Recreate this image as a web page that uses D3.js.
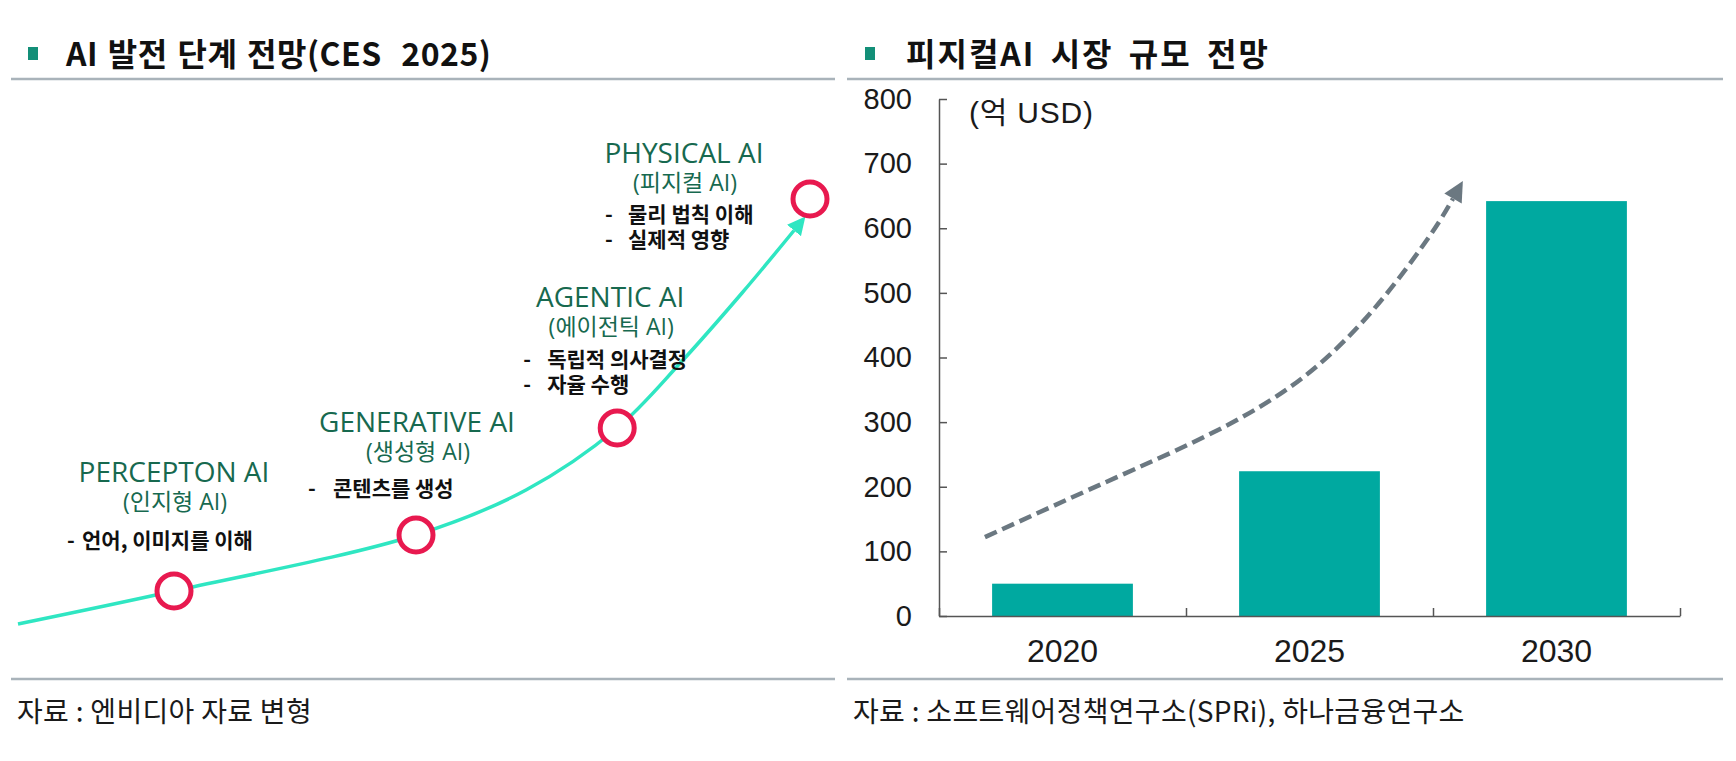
<!DOCTYPE html>
<html>
<head>
<meta charset="utf-8">
<script src="https://cdn.jsdelivr.net/npm/d3@7"></script>
<style>
  html, body { margin: 0; padding: 0; background: #fff; }
  svg { display: block; }
</style>
</head>
<body>
<div id="chart"></div>
<script>
// Left panel: AI development stages (CES 2025)
const stageNames = ["PERCEPTON AI", "GENERATIVE AI", "AGENTIC AI", "PHYSICAL AI"];
const stageNamesKo = ["(인지형 AI)", "(생성형 AI)", "(에이전틱 AI)", "(피지컬 AI)"];
const stageDescs = [["언어, 이미지를 이해"], ["콘텐츠를 생성"], ["독립적 의사결정", "자율 수행"], ["물리 법칙 이해", "실제적 영향"]];
// stage position on the growth curve (progress, level) in 0-100 units
const stageProgress = [19.5, 49.75, 74.9, 99];
const stageLevel = [6.8, 18, 39.4, 85.2];
// growth curve itself, same units
const curveProgress = [0, 19.5, 49.75, 63.5, 74.9, 82.9, 90.5, 97];
const curveLevel = [0.2, 6.8, 18, 27, 39.4, 52.6, 66.4, 78.9];

// Right panel: physical AI market size (억 USD)
const years = ["2020", "2025", "2030"];
const marketSize = [50, 224, 642];
const yTicks = [0, 100, 200, 300, 400, 500, 600, 700, 800];
// dashed trend arrow: position in category slots, value in 억 USD
const trendPos = [0.186, 0.785, 1.47, 1.927, 2.081];
const trendValue = [122, 226, 368, 556, 646];

const W = 1736, H = 761;
const KR = "'Noto Sans CJK KR', 'Noto Sans', sans-serif";
const LATIN = "'Open Sans', 'Noto Sans CJK KR', sans-serif";
const AXIS = "'Liberation Sans', Arial, 'Noto Sans CJK KR', sans-serif";

const svg = d3.select("#chart").append("svg")
  .attr("width", W)
  .attr("height", H);

svg.append("rect").attr("width", W).attr("height", H).attr("fill", "#fff");

// arrow heads
const defs = svg.append("defs");
function addArrow(id, color, len, wid) {
  defs.append("marker")
    .attr("id", id)
    .attr("viewBox", "0 0 10 10")
    .attr("refX", 0)
    .attr("refY", 5)
    .attr("markerUnits", "userSpaceOnUse")
    .attr("markerWidth", len)
    .attr("markerHeight", wid)
    .attr("orient", "auto")
    .append("path")
    .attr("d", "M0,0 L10,5 L0,10 Z")
    .attr("fill", color);
}
addArrow("headCyan", "#2fe6c2", 18, 18);
addArrow("headGray", "#6b7881", 22, 20);

/////////
// Panel frames: title, separators, source
/////////
function drawFrame(x0, x1, sqX, title, titleX, titleStyle, source) {
  svg.append("rect")
    .attr("x", sqX).attr("y", 47)
    .attr("width", 10).attr("height", 13)
    .attr("fill", "#138f78");

  svg.append("text")
    .attr("x", titleX).attr("y", 66)
    .style("font-family", KR)
    .style("font-weight", 700)
    .style("font-size", "32px")
    .style("letter-spacing", titleStyle.ls + "px")
    .style("word-spacing", titleStyle.ws + "px")
    .style("white-space", "pre")
    .attr("fill", "#111")
    .text(title);

  [79, 679].forEach(y => {
    svg.append("line")
      .attr("x1", x0).attr("x2", x1)
      .attr("y1", y).attr("y2", y)
      .attr("stroke", "#a9b3ba")
      .attr("stroke-width", 2.5);
  });

  svg.append("text")
    .attr("x", x0 + 6).attr("y", 722)
    .style("font-family", KR)
    .style("font-size", "28px")
    .style("letter-spacing", "0.3px")
    .attr("fill", "#1a1a1a")
    .text(source);
}

drawFrame(11, 835, 28, "AI 발전 단계 전망(CES  2025)", 66, { ls: 0.5, ws: 2 }, "자료 : 엔비디아 자료 변형");
drawFrame(847, 1723, 865, "피지컬AI 시장 규모 전망", 906, { ls: 2, ws: 6 }, "자료 : 소프트웨어정책연구소(SPRi), 하나금융연구소");

/////////
// Left panel
/////////
const xL = d3.scaleLinear().domain([0, 100]).range([18, 818]);
const yL = d3.scaleLinear().domain([0, 100]).range([625, 125]);

const curveData = curveProgress.map((p, i) => [p, curveLevel[i]]);
const curveLine = d3.line()
  .x(d => xL(d[0]))
  .y(d => yL(d[1]))
  .curve(d3.curveCatmullRom.alpha(0.5));

svg.append("path")
  .datum(curveData)
  .attr("d", curveLine)
  .attr("fill", "none")
  .attr("stroke", "#2fe6c2")
  .attr("stroke-width", 3.5)
  .attr("marker-end", "url(#headCyan)");

const stages = stageNames.map((name, i) => ({
  name: name,
  ko: stageNamesKo[i],
  desc: stageDescs[i],
  x: xL(stageProgress[i]),
  y: yL(stageLevel[i])
}));

svg.append("g").selectAll("circle")
  .data(stages)
  .join("circle")
  .attr("cx", d => d.x)
  .attr("cy", d => d.y)
  .attr("r", 17)
  .attr("fill", "#fff")
  .attr("stroke", "#e8194f")
  .attr("stroke-width", 5);

// label layout relative to each circle
const labelLayout = [
  { nameDx: 0,    nameDy: -109, descDx: -107, descDy: -43, dashGap: 15 },
  { nameDx: 1,    nameDy: -103, descDx: -108, descDy: -39, dashGap: 25 },
  { nameDx: -7,   nameDy: -121, descDx: -94,  descDy: -61, dashGap: 24 },
  { nameDx: -126, nameDy: -36,  descDx: -205, descDy: 23,  dashGap: 23 }
];

stages.forEach((s, i) => {
  const L = labelLayout[i];
  const g = svg.append("g");
  g.append("text")
    .attr("x", s.x + L.nameDx).attr("y", s.y + L.nameDy)
    .attr("text-anchor", "middle")
    .style("font-family", LATIN)
    .style("font-size", "28px")
    .attr("fill", "#17694f")
    .text(s.name);
  g.append("text")
    .attr("x", s.x + L.nameDx + 1).attr("y", s.y + L.nameDy + 28)
    .attr("text-anchor", "middle")
    .style("font-family", LATIN)
    .style("font-size", "23px")
    .attr("fill", "#17694f")
    .text(s.ko);
  s.desc.forEach((line, j) => {
    const by = s.y + L.descDy + j * 25;
    g.append("text")
      .attr("x", s.x + L.descDx).attr("y", by)
      .style("font-family", KR)
      .style("font-size", "21px")
      .style("font-weight", 700)
      .attr("fill", "#111")
      .text("-");
    g.append("text")
      .attr("x", s.x + L.descDx + L.dashGap).attr("y", by)
      .style("font-family", KR)
      .style("font-size", "21px")
      .style("font-weight", 700)
      .attr("fill", "#111")
      .text(line);
  });
});

/////////
// Right panel
/////////
const plotLeft = 939, plotRight = 1680;
const y = d3.scaleLinear().domain([0, 800]).range([616, 99]);
const x = d3.scaleBand()
  .domain(years)
  .range([plotLeft, plotRight])
  .paddingInner(0.43)
  .paddingOuter(0.215);
const slot = d3.scaleLinear().domain([0, years.length]).range([plotLeft, plotRight]);

// bars
svg.append("g").selectAll("rect")
  .data(years.map((yr, i) => ({ year: yr, value: marketSize[i] })))
  .join("rect")
  .attr("x", d => x(d.year))
  .attr("y", d => y(d.value))
  .attr("width", x.bandwidth())
  .attr("height", d => y(0) - y(d.value))
  .attr("fill", "#00a9a0");

// y axis, ticks pointing inward
const yAxis = svg.append("g")
  .attr("transform", `translate(${plotLeft},0)`)
  .call(d3.axisLeft(y).tickValues(yTicks).tickSizeInner(-8).tickSizeOuter(0).tickPadding(27));
yAxis.select(".domain").attr("stroke", "#555").attr("stroke-width", 1.5);
yAxis.selectAll(".tick line").attr("stroke", "#555").attr("stroke-width", 1.5);
yAxis.selectAll(".tick text")
  .style("font-family", AXIS)
  .style("font-size", "29px")
  .attr("fill", "#1a1a1a");

// x axis: labels at band centres, separator ticks at slot boundaries
const xAxis = svg.append("g")
  .attr("transform", `translate(0,${y(0)})`)
  .call(d3.axisBottom(x).tickSize(0).tickPadding(23));
xAxis.select(".domain").attr("stroke", "#555").attr("stroke-width", 1.5);
xAxis.selectAll(".tick text")
  .style("font-family", AXIS)
  .style("font-size", "32px")
  .attr("fill", "#1a1a1a");

const xTicks = svg.append("g")
  .attr("transform", `translate(0,${y(0)})`)
  .call(d3.axisBottom(slot).tickValues(d3.range(years.length + 1)).tickSize(-8).tickFormat(""));
xTicks.select(".domain").remove();
xTicks.selectAll(".tick line").attr("stroke", "#555").attr("stroke-width", 1.5);

// unit label
svg.append("text")
  .attr("x", plotLeft + 30).attr("y", y(800) + 24)
  .style("font-family", AXIS)
  .style("font-size", "30px")
  .style("letter-spacing", "0.8px")
  .attr("fill", "#1a1a1a")
  .text("(억 USD)");

// dashed growth arrow
const trendLine = d3.line()
  .x(d => slot(d[0]))
  .y(d => y(d[1]))
  .curve(d3.curveNatural);

svg.append("path")
  .datum(trendPos.map((p, i) => [p, trendValue[i]]))
  .attr("d", trendLine)
  .attr("fill", "none")
  .attr("stroke", "#6b7881")
  .attr("stroke-width", 4.5)
  .attr("stroke-dasharray", "13,6")
  .attr("marker-end", "url(#headGray)");
</script>
</body>
</html>
